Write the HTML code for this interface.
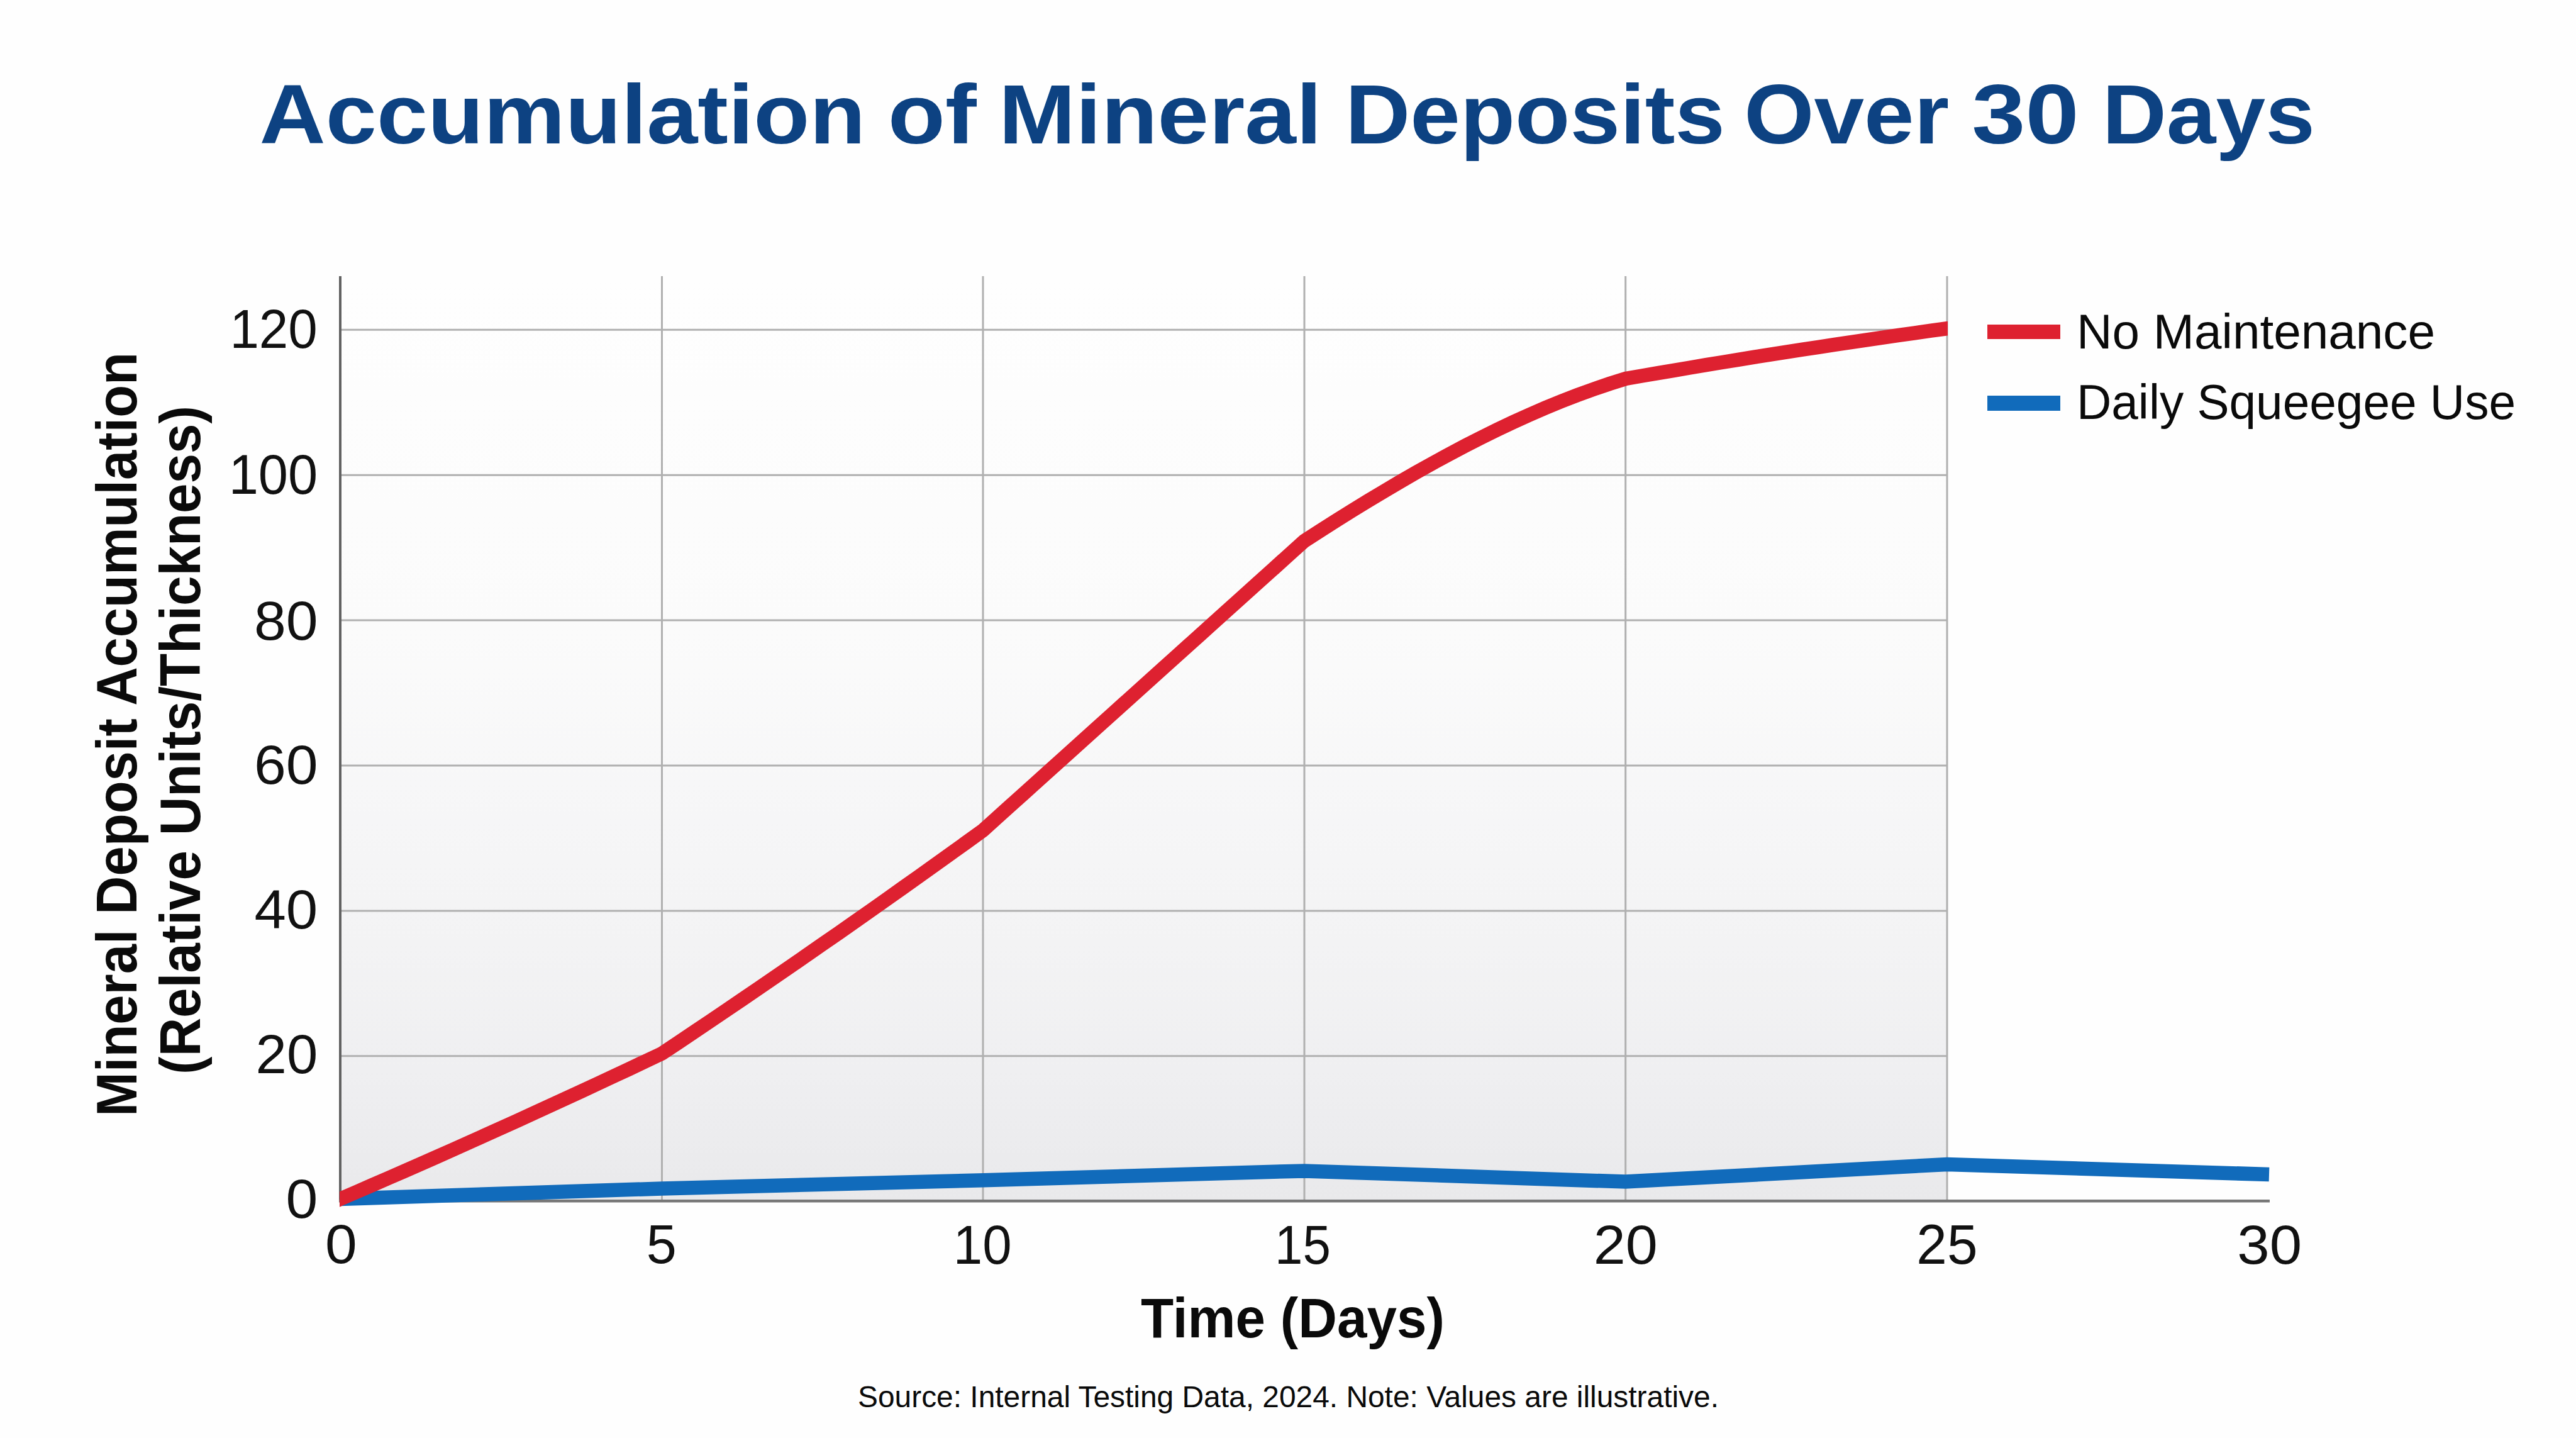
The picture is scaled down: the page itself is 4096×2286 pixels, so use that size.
<!DOCTYPE html>
<html><head><meta charset="utf-8">
<style>
html,body{margin:0;padding:0;background:#fefefe;}
body{width:4096px;height:2286px;overflow:hidden;position:relative;}
svg{position:absolute;left:0;top:0;display:block;}
text{font-family:"Liberation Sans",sans-serif;}
</style></head><body>
<svg width="4096" height="2286" viewBox="0 0 4096 2286">
<defs>
<linearGradient id="bg" x1="0" y1="439" x2="0" y2="1909" gradientUnits="userSpaceOnUse">
<stop offset="0" stop-color="#fefefe"/>
<stop offset="0.38" stop-color="#fbfbfb"/>
<stop offset="0.586" stop-color="#f6f6f7"/>
<stop offset="0.72" stop-color="#f3f3f4"/>
<stop offset="0.858" stop-color="#efeff1"/>
<stop offset="1" stop-color="#e9e9eb"/>
</linearGradient>
<clipPath id="pr"><rect x="540" y="0" width="2557" height="2286"/></clipPath>
<clipPath id="pc"><rect x="540" y="0" width="3556" height="2286"/></clipPath>
</defs>
<rect x="0" y="0" width="4096" height="2286" fill="#fefefe"/>
<!-- plot background -->
<rect x="541" y="439" width="2555" height="1470" fill="url(#bg)"/>

<!-- grid horizontal -->
<g stroke="#b0b0b0" stroke-width="3" fill="none">
<line x1="541" y1="524.3" x2="3096" y2="524.3"/>
<line x1="541" y1="755.2" x2="3096" y2="755.2"/>
<line x1="541" y1="986.1" x2="3096" y2="986.1"/>
<line x1="541" y1="1217" x2="3096" y2="1217"/>
<line x1="541" y1="1447.9" x2="3096" y2="1447.9"/>
<line x1="541" y1="1678.8" x2="3096" y2="1678.8"/>
</g>
<!-- grid vertical -->
<g stroke="#b0b0b0" stroke-width="3" fill="none">
<line x1="1052.5" y1="439" x2="1052.5" y2="1909"/>
<line x1="1563" y1="439" x2="1563" y2="1909"/>
<line x1="2074" y1="439" x2="2074" y2="1909"/>
<line x1="2584.7" y1="439" x2="2584.7" y2="1909"/>
<line x1="3096" y1="439" x2="3096" y2="1909"/>
</g>
<!-- axes -->
<line x1="541" y1="439" x2="541" y2="1911" stroke="#626262" stroke-width="4"/>
<line x1="539" y1="1909.2" x2="3609" y2="1909.2" stroke="#777" stroke-width="4.5"/>

<!-- blue line -->
<g clip-path="url(#pc)">
<polyline fill="none" stroke="#116bbb" stroke-width="22.5" stroke-linejoin="miter" stroke-miterlimit="10"
 points="525,1906.5 541,1906 1052.4,1889.5 1563.5,1876.2 2074,1861.4 2584.8,1878.6 3096,1851 3608,1867"/>
<!-- red line -->
<polyline clip-path="url(#pr)" fill="none" stroke="#de2130" stroke-width="22.5" stroke-linejoin="miter" stroke-miterlimit="10"
 points="525.0,1912.8 541.0,1906.0 566.6,1895.0 592.1,1883.9 617.7,1872.8 643.3,1861.6 668.9,1850.4 694.4,1839.1 720.0,1827.7 745.6,1816.3 771.1,1804.8 796.7,1793.3 822.3,1781.7 847.8,1770.0 873.4,1758.3 899.0,1746.6 924.6,1734.8 950.1,1722.9 975.7,1710.9 1001.3,1699.0 1026.8,1686.9 1052.4,1674.8 1077.9,1657.8 1103.5,1640.7 1129.0,1623.5 1154.5,1606.2 1180.1,1588.9 1205.6,1571.5 1231.1,1554.0 1256.6,1536.5 1282.2,1518.8 1307.7,1501.1 1333.2,1483.4 1358.8,1465.5 1384.3,1447.6 1409.8,1429.6 1435.3,1411.5 1460.9,1393.4 1486.4,1375.1 1511.9,1356.8 1537.5,1338.5 1563.0,1320.0 1588.5,1297.0 1614.1,1274.0 1639.7,1251.0 1665.2,1228.0 1690.8,1205.0 1716.3,1182.0 1741.8,1159.0 1767.4,1136.0 1793.0,1113.0 1818.5,1090.0 1844.0,1067.0 1869.6,1044.0 1895.2,1021.0 1920.7,998.0 1946.2,975.0 1971.8,952.0 1997.3,929.0 2022.9,906.0 2048.4,883.0 2074.0,860.0 2099.6,843.5 2125.1,827.3 2150.7,811.3 2176.2,795.7 2201.8,780.3 2227.3,765.2 2252.8,750.5 2278.4,736.2 2303.9,722.3 2329.5,708.8 2355.1,695.7 2380.6,683.1 2406.2,671.0 2431.7,659.4 2457.2,648.4 2482.8,637.9 2508.3,628.0 2533.9,618.7 2559.4,610.0 2585.0,602.0 2610.6,597.5 2636.1,593.1 2661.7,588.8 2687.2,584.5 2712.8,580.2 2738.3,576.0 2763.8,571.8 2789.4,567.7 2814.9,563.7 2840.5,559.6 2866.1,555.7 2891.6,551.8 2917.2,547.9 2942.7,544.1 2968.2,540.3 2993.8,536.6 3019.3,532.9 3044.9,529.3 3070.4,525.7 3096.0,522.2 3110.0,520.3"/>

</g>
<!-- title -->
<g font-size="134" font-weight="bold" fill="#0d4282">
<text transform="translate(412.6,228) scale(1.0878,1)">Accumulation</text>
<text transform="translate(1411.8,228) scale(1.1139,1)">of</text>
<text transform="translate(1588.0,228) scale(1.0949,1)">Mineral</text>
<text transform="translate(2138.9,228) scale(1.0673,1)">Deposits</text>
<text transform="translate(2773.2,228) scale(1.0677,1)">Over</text>
<text transform="translate(3135.3,228) scale(1.1426,1)">30</text>
<text transform="translate(3342.7,228) scale(1.0556,1)">Days</text>
</g>

<!-- y tick labels -->
<g font-size="88" fill="#111">
<text transform="translate(365.4,552.5) scale(0.949,1)">120</text>
<text transform="translate(363.7,785.1) scale(0.964,1)">100</text>
<text transform="translate(403.9,1016.7) scale(1.038,1)">80</text>
<text transform="translate(403.9,1246.2) scale(1.038,1)">60</text>
<text transform="translate(404.4,1475.8) scale(1.03,1)">40</text>
<text transform="translate(406.6,1706.4) scale(1.008,1)">20</text>
<text transform="translate(454.6,1935.5) scale(1.038,1)">0</text>
<text transform="translate(517.1,2008) scale(1.036,1)">0</text>
<text transform="translate(1027.8,2008) scale(0.983,1)">5</text>
<text transform="translate(1515.7,2008.5) scale(0.949,1)">10</text>
<text transform="translate(2027.1,2008.5) scale(0.908,1)">15</text>
<text transform="translate(2533.7,2008.5) scale(1.042,1)">20</text>
<text transform="translate(3047.3,2009) scale(0.993,1)">25</text>
<text transform="translate(3557.2,2008.5) scale(1.051,1)">30</text>
</g>

<!-- y axis title -->
<g font-size="90" font-weight="bold" fill="#0a0a0a">
<text transform="translate(217,1775) rotate(-90)" x="0" y="0" textLength="1215" lengthAdjust="spacingAndGlyphs">Mineral Deposit Accumulation</text>
<text transform="translate(318,1708) rotate(-90)" x="0" y="0" textLength="1063" lengthAdjust="spacingAndGlyphs">(Relative Units/Thickness)</text>
</g>

<!-- x axis title -->
<text x="1814" y="2126" font-size="89" font-weight="bold" fill="#0a0a0a" textLength="483" lengthAdjust="spacingAndGlyphs">Time (Days)</text>

<!-- legend -->
<rect x="3160" y="516" width="116" height="23" fill="#de2130"/>
<rect x="3160" y="629" width="116" height="24" fill="#116bbb"/>
<text x="3302" y="554.3" font-size="78" fill="#0a0a0a" textLength="570" lengthAdjust="spacingAndGlyphs">No Maintenance</text>
<text x="3302" y="666.4" font-size="78" fill="#0a0a0a" textLength="698" lengthAdjust="spacingAndGlyphs">Daily Squeegee Use</text>

<!-- source -->
<text x="1364" y="2237" font-size="48" fill="#0a0a0a" textLength="1369" lengthAdjust="spacingAndGlyphs">Source: Internal Testing Data, 2024. Note: Values are illustrative.</text>
</svg>
</body></html>
